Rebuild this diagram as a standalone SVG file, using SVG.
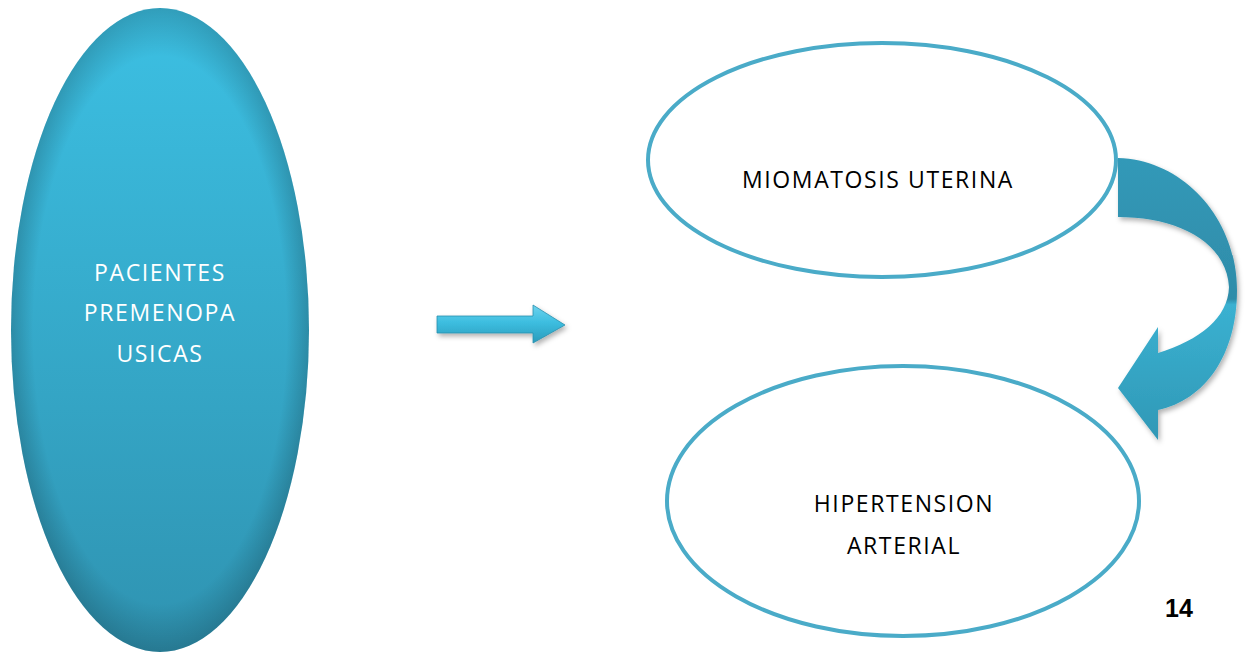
<svg xmlns="http://www.w3.org/2000/svg" width="1246" height="652" viewBox="0 0 1246 652">
<defs>
<style>
.lbl{font-family:"Open Sans","Liberation Sans",sans-serif;font-size:23px;letter-spacing:1.6px;text-anchor:middle}
.w{fill:#ffffff}
.k{fill:#000000}
.ring{fill:#ffffff;stroke:#4AABC8;stroke-width:4}
</style>
<linearGradient id="gBig" x1="0" y1="0" x2="0" y2="1">
<stop offset="0" stop-color="#3CC0E3"/>
<stop offset="1" stop-color="#2F93B1"/>
</linearGradient>
<radialGradient id="gEdge" cx="0.5" cy="0.5" r="0.5">
<stop offset="0.85" stop-color="#000" stop-opacity="0"/>
<stop offset="1" stop-color="#000" stop-opacity="0.18"/>
</radialGradient>
<linearGradient id="gArrow" x1="0" y1="0" x2="0" y2="1">
<stop offset="0" stop-color="#6FD3EE"/>
<stop offset="0.45" stop-color="#3DBEE0"/>
<stop offset="1" stop-color="#2A9BBB"/>
</linearGradient>
<linearGradient id="gCurve" x1="0" y1="0" x2="0" y2="1">
<stop offset="0" stop-color="#3399B8"/>
<stop offset="0.5" stop-color="#2E8CA9"/>
<stop offset="0.52" stop-color="#3AB1D1"/>
<stop offset="1" stop-color="#3098B6"/>
</linearGradient>
<filter id="sh" x="-20%" y="-20%" width="140%" height="140%">
<feDropShadow dx="2" dy="3" stdDeviation="2.5" flood-color="#000" flood-opacity="0.3"/>
</filter>
</defs>
<g id="pacientes">
<ellipse cx="160" cy="330" rx="149" ry="322" fill="url(#gBig)"/>
<ellipse cx="160" cy="330" rx="149" ry="322" fill="url(#gEdge)"/>
<text class="lbl w" x="160" y="281">PACIENTES</text>
<text class="lbl w" x="160" y="321">PREMENOPA</text>
<text class="lbl w" x="160" y="362">USICAS</text>
</g>
<g id="miomatosis">
<ellipse class="ring" cx="882" cy="160" rx="234" ry="117"/>
<text class="lbl k" x="878" y="188">MIOMATOSIS UTERINA</text>
</g>
<g id="hipertension">
<ellipse class="ring" cx="903" cy="501" rx="236" ry="135"/>
<text class="lbl k" x="904" y="512">HIPERTENSION</text>
<text class="lbl k" x="904" y="554">ARTERIAL</text>
</g>
<g id="connectors">
<path d="M437,316 L533,316 L533,305 L565,325 L533,343 L533,333 L437,333 Z" fill="url(#gArrow)" stroke="#2A8FAD" stroke-width="0.8" filter="url(#sh)"/>
<path d="M1118,158 C1185,160 1237,220 1237,290 C1237,355 1205,400 1158,410 L1158,440 L1118,388 L1158,327 L1158,353 C1200,340 1228,318 1229,287 C1226,240 1175,217 1118,217 Z" fill="url(#gCurve)" filter="url(#sh)"/>
</g>
<g id="page">
<text x="1179" y="617" font-family="Liberation Sans, sans-serif" font-weight="bold" font-size="25" text-anchor="middle">14</text>
</g>
</svg>
